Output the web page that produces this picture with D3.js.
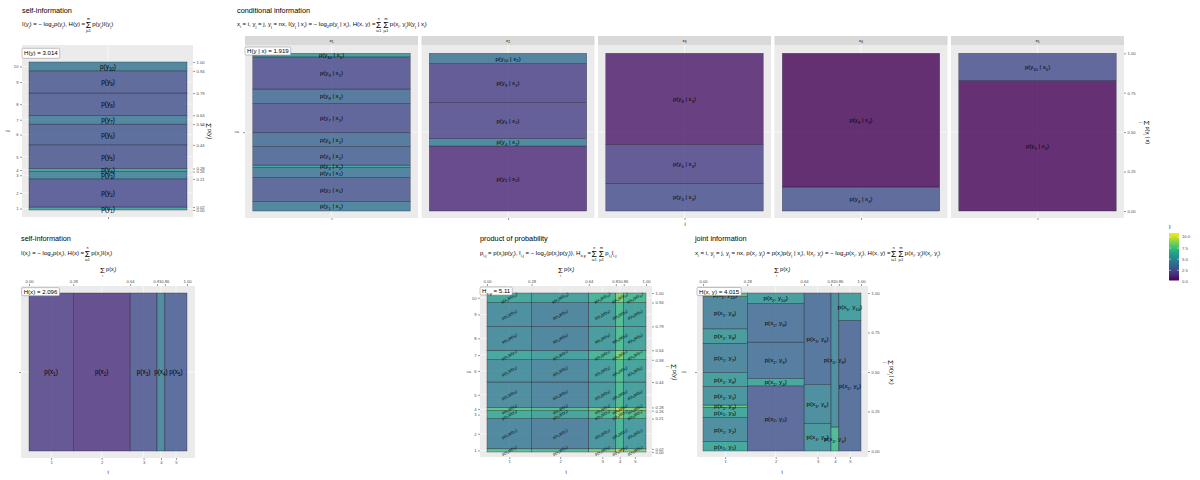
<!DOCTYPE html>
<html lang="en">
<head>
  <meta charset="UTF-8">
  <title>information</title>
  <script src="https://cdn.jsdelivr.net/npm/d3@7"></script>
  <style>
    body { margin: 0; background: #fff; }
    text { font-family: 'Liberation Sans', Arial, sans-serif; fill: #000; }
  </style>
</head>
<body>
<svg id="chart" width="1200" height="480"></svg>
<script>
  // marginal probabilities
  var px = [0.28, 0.36, 0.17, 0.05, 0.14]
  var py = [0.02, 0.19, 0.05, 0.02, 0.16, 0.14, 0.06, 0.15, 0.15, 0.06]
  // conditional p(y_j | x_i): which j occur for each x_i, and their share
  var condJ = [[1, 2, 3, 4, 5, 6, 7, 8, 9, 10], [2, 4, 6, 9, 10], [3, 6, 8], [4, 8], [5, 10]]
  var condP = [[0.059, 0.154, 0.063, 0.015, 0.118, 0.087, 0.186, 0.091, 0.204, 0.023],
               [0.412, 0.047, 0.23, 0.245, 0.066],
               [0.176, 0.245, 0.579],
               [0.152, 0.848],
               [0.827, 0.173]]
  var hText = ['H(y) = 3.014', 'H(y | x) = 1.919', 'H(x) = 2.096', 'H_{x,y} = 5.11', 'H(x, y) = 4.015']
  var legendTicks = [0, 2.5, 5, 7.5, 10]
  var colorDomain = [0.2, 10.9]
  var quarterTicks = [0, 0.25, 0.5, 0.75, 1]

  var svg = d3.select('#chart')
  var color = d3.scaleSequential(d3.interpolateViridis).domain(colorDomain)
  var fmt2 = d3.format('.2f')

  function spans(v) {
    let s = 0
    return v.map(d => { const a = s; s += d; return [a, s] })
  }
  var xS = spans(px), yS = spans(py)
  var xMid = xS.map(d => (d[0] + d[1]) / 2), yMid = yS.map(d => (d[0] + d[1]) / 2)
  var xCum = [0].concat(xS.map(d => d[1])), yCum = [0].concat(yS.map(d => d[1]))

  // text with _{sub} and ^{sup} parts
  function rich(t, str, size) {
    t.attr('font-size', size)
    const re = /([_^])\{([^}]*)\}/g
    let last = 0, cur = 0, m
    const add = (s, off, fs) => {
      if (!s) return
      const sp = t.append('tspan').attr('dy', off - cur).text(s)
      if (fs) sp.attr('font-size', fs)
      cur = off
    }
    while ((m = re.exec(str)) !== null) {
      add(str.slice(last, m.index), 0)
      add(m[2], m[1] === '_' ? size * 0.3 : -size * 0.45, size * 0.7)
      last = re.lastIndex
    }
    add(str.slice(last), 0)
    return t
  }

  function formula(parent, x, y, parts, size) {
    const h = parent.append('g').attr('transform', 'translate(' + x + ',' + y + ')')
    let cx = 0
    parts.forEach(p => {
      if (typeof p === 'string') {
        const t = rich(h.append('text').attr('x', cx).attr('y', 0), p, size)
        cx += t.node().getComputedTextLength()
      } else {
        const t = h.append('text').attr('x', cx + size * 0.1).attr('y', size * 0.35)
          .attr('font-size', size * 1.45).text('Σ')
        const w = t.node().getComputedTextLength() + size * 0.2
        if (p[0]) h.append('text').attr('x', cx + w / 2).attr('y', -size * 1.05)
          .attr('text-anchor', 'middle').attr('font-size', size * 0.6).text(p[0])
        h.append('text').attr('x', cx + w / 2).attr('y', size * 1.05)
          .attr('text-anchor', 'middle').attr('font-size', size * 0.6).text(p[1])
        cx += w + size * 0.1
      }
    })
    return { g: h, w: cx }
  }

  function formulaC(parent, x, y, parts, size, rot) {
    const outer = parent.append('g')
      .attr('transform', 'translate(' + x + ',' + y + ')' + (rot ? ' rotate(' + rot + ')' : ''))
    const f = formula(outer, 0, 0, parts, size)
    f.g.attr('transform', 'translate(' + (-f.w / 2) + ',0)')
  }

  function title(x, y, str) {
    svg.append('text').attr('x', x).attr('y', y).attr('font-size', 7.3).attr('fill', '#000').text(str)
  }

  function axisTitle(x, y, str, rot) {
    svg.append('text').attr('transform', 'translate(' + x + ',' + y + ')' + (rot ? ' rotate(' + rot + ')' : ''))
      .attr('text-anchor', 'middle').attr('font-size', 5.5).attr('fill', '#000').text(str)
  }

  function panelBg(g, x0, y0, x1, y1) {
    g.append('rect').attr('x', x0).attr('y', y0).attr('width', x1 - x0).attr('height', y1 - y0)
      .attr('fill', '#ebebeb')
  }

  function grid(g, xs, ys, x0, y0, x1, y1) {
    xs.forEach(v => g.append('line').attr('x1', v).attr('x2', v).attr('y1', y0).attr('y2', y1)
      .attr('stroke', '#fff').attr('stroke-width', 0.6))
    ys.forEach(v => g.append('line').attr('x1', x0).attr('x2', x1).attr('y1', v).attr('y2', v)
      .attr('stroke', '#fff').attr('stroke-width', 0.6))
  }

  function tiles(g, data, xs, ys, size, rot) {
    g.selectAll(null).data(data).enter().append('rect')
      .attr('x', d => xs(d.x0))
      .attr('y', d => ys(d.y1))
      .attr('width', d => xs(d.x1) - xs(d.x0))
      .attr('height', d => ys(d.y0) - ys(d.y1))
      .attr('fill', d => color(d.I))
      .attr('fill-opacity', 0.8)
      .attr('stroke', '#2a2a3a')
      .attr('stroke-opacity', 0.8)
      .attr('stroke-width', 0.45)
    data.forEach(d => {
      const cx = xs((d.x0 + d.x1) / 2), cy = ys((d.y0 + d.y1) / 2)
      const t = g.append('text')
        .attr('transform', 'translate(' + cx + ',' + cy + ')' + (rot ? ' rotate(' + rot + ')' : ''))
        .attr('y', size * 0.35).attr('text-anchor', 'middle').attr('fill', '#111')
      rich(t, d.label, size)
    })
  }

  function styleAxis(sel) {
    sel.select('.domain').remove()
    sel.selectAll('.tick line').attr('stroke', '#333').attr('stroke-width', 0.5)
    sel.selectAll('.tick text').attr('fill', '#4d4d4d').style('fill', '#4d4d4d').attr('font-size', 4.2)
      .attr('font-family', "'Liberation Sans', Arial, sans-serif")
  }

  function axis(g, gen, tx, ty, ticks, format) {
    g.append('g').attr('transform', 'translate(' + tx + ',' + ty + ')')
      .call(gen.tickValues(ticks).tickFormat(format).tickSize(2).tickPadding(1.5))
      .call(styleAxis)
  }

  function hLabel(g, x, y, str, h) {
    const box = g.append('rect').attr('x', x).attr('y', y).attr('height', h).attr('rx', 1.2)
      .attr('fill', '#fff').attr('stroke', '#9a9a9a').attr('stroke-width', 0.6)
    const t = rich(g.append('text').attr('x', x + 2).attr('y', y + h / 2 + 2.1).attr('fill', '#222'), str, 6.1)
    box.attr('width', t.node().getComputedTextLength() + 4)
  }

  // ---------- top left: self-information of y ----------
  title(22, 12.5, 'self-information')
  formula(svg, 22, 26, ['I(y_{j}) = − log_{2}p(y_{j}), H(y) = ', ['m', 'j=1'], 'p(y_{j})I(y_{j})'], 6)
  var g1 = svg.append('g')
  panelBg(g1, 22, 45, 193, 217)
  var p1x = d3.scaleLinear().domain([0, 1]).range([29, 187])
  var p1y = d3.scaleLinear().domain([0, 1]).range([210, 62])
  grid(g1, [p1x(0.5)], yMid.map(p1y), 22, 45, 193, 217)
  tiles(g1, yS.map((d, j) => ({ x0: 0, x1: 1, y0: d[0], y1: d[1], I: -Math.log2(py[j]), label: 'p(y_{' + (j + 1) + '})' })), p1x, p1y, 6.4)
  axis(g1, d3.axisLeft(p1y), 22, 0, yMid, (d, i) => i + 1)
  axis(g1, d3.axisRight(p1y), 193, 0, yCum, fmt2)
  axis(g1, d3.axisBottom(p1x), 0, 217, [0.5], () => '')
  axisTitle(9, 131, 'j', -90)
  formulaC(svg, 208, 131, [['', 'j'], 'p(y_{j})'], 5.5, 90)
  hLabel(g1, 22, 48.3, hText[0], 10)

  // ---------- top right: conditional information ----------
  title(237, 12.5, 'conditional information')
  formula(svg, 237, 26, ['x_{i} = i, y_{j} = j, y_{j} = nx, I(y_{j} | x_{i}) = − log_{2}p(y_{j} | x_{i}), H(x, y) = ',
    ['n', 'i=1'], ['m', 'j=1'], 'p(x_{i}, y_{j})I(y_{j} | x_{i})'], 6)
  var g2 = svg.append('g')
  px.forEach((pxi, k) => {
    const fx0 = 245 + k * 176.5, fx1 = fx0 + 173
    g2.append('rect').attr('x', fx0).attr('y', 36).attr('width', 173).attr('height', 9).attr('fill', '#d9d9d9')
    rich(g2.append('text').attr('x', fx0 + 86.5).attr('y', 42).attr('text-anchor', 'middle').attr('fill', '#1a1a1a'),
      'x_{' + (k + 1) + '}', 4.4)
    panelBg(g2, fx0, 45, fx1, 218)
    const xs = d3.scaleLinear().domain([0, 1]).range([fx0 + 7.8, fx1 - 7.8])
    const ys = d3.scaleLinear().domain([0, 1]).range([211, 53.3])
    grid(g2, [xs(0.5)], [ys(0.5)], fx0, 45, fx1, 218)
    tiles(g2, spans(condP[k]).map((d, n) => ({
      x0: 0, x1: 1, y0: d[0], y1: d[1], I: -Math.log2(condP[k][n]),
      label: 'p(y_{' + condJ[k][n] + '} | x_{' + (k + 1) + '})'
    })), xs, ys, 6)
    axis(g2, d3.axisBottom(xs), 0, 218, [0.5], () => '')
    if (k === 0) axis(g2, d3.axisLeft(ys), fx0, 0, [0.5], () => '')
    if (k === 4) axis(g2, d3.axisRight(ys), fx1, 0, quarterTicks, fmt2)
  })
  axisTitle(238, 132, 'j', -90)
  axisTitle(685, 226, 'i')
  formulaC(svg, 1146, 132, [['', 'j'], 'p(y_{j} | x)'], 5.5, 90)
  hLabel(g2, 245, 47, hText[1], 8)

  // ---------- bottom left: self-information of x ----------
  title(21, 241, 'self-information')
  formula(svg, 21, 255, ['I(x_{i}) = − log_{2}p(x_{i}), H(x) = ', ['n', 'i=1'], 'p(x_{i})I(x_{i})'], 6)
  var g3 = svg.append('g')
  panelBg(g3, 21, 286, 195, 458)
  var p3x = d3.scaleLinear().domain([0, 1]).range([29, 187])
  var p3y = d3.scaleLinear().domain([0, 1]).range([451, 293])
  grid(g3, xMid.map(p3x), [p3y(0.5)], 21, 286, 195, 458)
  tiles(g3, xS.map((d, i) => ({ x0: d[0], x1: d[1], y0: 0, y1: 1, I: -Math.log2(px[i]), label: 'p(x_{' + (i + 1) + '})' })), p3x, p3y, 6.4)
  axis(g3, d3.axisTop(p3x), 0, 286, xCum, fmt2)
  axis(g3, d3.axisBottom(p3x), 0, 458, xMid, (d, i) => i + 1)
  axis(g3, d3.axisLeft(p3y), 21, 0, [0.5], () => '')
  axisTitle(108, 474, 'i')
  formulaC(svg, 108, 271, [['', 'i'], 'p(x_{i})'], 5.5)
  hLabel(g3, 21.7, 287.7, hText[2], 8)

  // ---------- product of probability ----------
  title(480, 241, 'product of probability')
  formula(svg, 480, 255, ['p_{i,j} = p(x_{i})p(y_{j}), I_{i,j} = − log_{2}(p(x_{i})p(y_{j})), H_{x,y} = ',
    ['n', 'i=1'], ['m', 'j=1'], 'p_{i,j}I_{i,j}'], 6)
  var g4 = svg.append('g')
  panelBg(g4, 480, 286, 652, 457)
  var p4x = d3.scaleLinear().domain([0, 1]).range([487, 646])
  var p4y = d3.scaleLinear().domain([0, 1]).range([452, 293])
  grid(g4, xMid.map(p4x), yMid.map(p4y), 480, 286, 652, 457)
  var prodCells = []
  xS.forEach((dx, i) => yS.forEach((dy, j) => prodCells.push({
    x0: dx[0], x1: dx[1], y0: dy[0], y1: dy[1], I: -Math.log2(px[i] * py[j]),
    label: 'p(x_{' + (i + 1) + '})p(y_{' + (j + 1) + '})'
  })))
  tiles(g4, prodCells, p4x, p4y, 3.9, -30)
  axis(g4, d3.axisTop(p4x), 0, 286, xCum, fmt2)
  axis(g4, d3.axisBottom(p4x), 0, 457, xMid, (d, i) => i + 1)
  axis(g4, d3.axisLeft(p4y), 480, 0, yMid, (d, i) => i + 1)
  axis(g4, d3.axisRight(p4y), 652, 0, yCum, fmt2)
  axisTitle(470, 372, 'j', -90)
  axisTitle(566, 474, 'i')
  formulaC(svg, 566, 271, [['', 'i'], 'p(x_{i})'], 5.5)
  formulaC(svg, 673, 372, [['', 'j'], 'p(y_{j})'], 5.5, 90)
  hLabel(g4, 480, 287, hText[3], 8)

  // ---------- joint information ----------
  title(695, 241, 'joint information')
  formula(svg, 695, 255, ['x_{i} = i, y_{j} = j, y_{j} = nx, p(x_{i}, y_{j}) = p(x_{i})p(y_{j} | x_{i}), I(x_{i}, y_{j}) = − log_{2}p(x_{i}, y_{j}), H(x, y) = ',
    ['n', 'i=1'], ['m', 'j=1'], 'p(x_{i}, y_{j})I(x_{i}, y_{j})'], 6)
  var g5 = svg.append('g')
  panelBg(g5, 697, 286, 868, 457)
  var p5x = d3.scaleLinear().domain([0, 1]).range([703, 861])
  var p5y = d3.scaleLinear().domain([0, 1]).range([451, 293])
  grid(g5, xMid.map(p5x), [p5y(0.5)], 697, 286, 868, 457)
  var jointCells = []
  xS.forEach((dx, i) => spans(condP[i]).forEach((dy, n) => jointCells.push({
    x0: dx[0], x1: dx[1], y0: dy[0], y1: dy[1], I: -Math.log2(px[i] * condP[i][n]),
    label: 'p(x_{' + (i + 1) + '}, y_{' + condJ[i][n] + '})'
  })))
  tiles(g5, jointCells, p5x, p5y, 6.2)
  axis(g5, d3.axisTop(p5x), 0, 286, xCum, fmt2)
  axis(g5, d3.axisBottom(p5x), 0, 457, xMid, (d, i) => i + 1)
  axis(g5, d3.axisLeft(p5y), 697, 0, [0.5], () => '')
  axis(g5, d3.axisRight(p5y), 868, 0, quarterTicks, fmt2)
  axisTitle(685, 372, 'j', -90)
  axisTitle(782, 474, 'i')
  formulaC(svg, 782, 271, [['', 'i'], 'p(x_{i})'], 5.5)
  formulaC(svg, 890, 372, [['', 'j'], 'p(y_{j} | x_{i})'], 5.5, 90)
  hLabel(g5, 697, 287.5, hText[4], 8)

  // ---------- colour legend ----------
  var lg = svg.append('g')
  var ly = d3.scaleLinear().domain(colorDomain).range([280.5, 233])
  var grad = svg.append('defs').append('linearGradient').attr('id', 'vir')
    .attr('x1', 0).attr('x2', 0).attr('y1', 1).attr('y2', 0)
  d3.range(0, 1.0001, 0.05).forEach(t => grad.append('stop').attr('offset', t)
    .attr('stop-color', d3.interpolateViridis(t)))
  lg.append('text').attr('x', 1169).attr('y', 229).attr('font-size', 5.5).text('I')
  lg.append('rect').attr('x', 1169).attr('y', 233).attr('width', 10).attr('height', 47.5).attr('fill', 'url(#vir)')
  legendTicks.forEach(v => {
    lg.append('line').attr('x1', 1169).attr('x2', 1171).attr('y1', ly(v)).attr('y2', ly(v)).attr('stroke', '#fff').attr('stroke-width', 0.5)
    lg.append('line').attr('x1', 1177).attr('x2', 1179).attr('y1', ly(v)).attr('y2', ly(v)).attr('stroke', '#fff').attr('stroke-width', 0.5)
    lg.append('text').attr('x', 1182).attr('y', ly(v) + 1.5).attr('font-size', 4.2).style('fill', '#4d4d4d').text(d3.format('.1f')(v))
  })
</script>
</body>
</html>
